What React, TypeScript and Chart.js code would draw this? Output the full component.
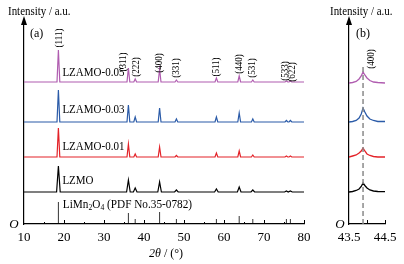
import React, { useEffect, useRef } from "react";
import { Chart, registerables } from "chart.js";
Chart.register(...registerables);

const FONT = '"Liberation Serif", "DejaVu Serif", serif';

// ---- Panel (a) data ----
const PEAK_POS = [18.6, 36.1, 37.8, 43.9, 48.1, 58.1, 63.8, 67.2, 75.6, 76.6];
const HKL = ["(111)", "(311)", "(222)", "(400)", "(331)", "(511)", "(440)", "(531)", "(533)", "(622)"];
const SERIES_NAMES = ["LZAMO-0.05", "LZAMO-0.03", "LZAMO-0.01", "LZMO"];
const OFFSETS = [142, 102, 67, 32];
const H_005 = [32, 14, 3, 13, 2, 4, 6, 2, 1, 1];
const H_003 = [32, 17, 5, 14, 3, 5, 9, 3, 1.5, 1.5];
const H_001 = [29, 13, 3, 10, 1.5, 4, 6, 2, 1, 1];
const H_LZMO = [26, 12, 4, 10, 2, 3, 5, 2, 1, 1];
const PEAK_HALF_WIDTH = [0.35, 0.35, 0.35, 0.45];
const PDF_H = [22, 11, 5, 12, 5, 5, 8, 5, 5, 5];
const PDF_LABEL = "(PDF No.35-0782)";
const X_TICKS_A = [10, 20, 30, 40, 50, 60, 70, 80];

// ---- Panel (b) data ----
const B_X = [43.5, 43.6, 43.7, 43.78, 43.84, 43.89, 43.94, 44.0, 44.08, 44.18, 44.3, 44.5];
const B_005 = [0, 0.5, 1.5, 4, 7, 11, 8, 5, 2.5, 1, 0.5, 0];
const B_003 = [0, 0.5, 1.5, 4, 8, 14, 10, 6, 3, 1.5, 0.5, 0.5];
const B_001 = [0, 1, 2, 4, 6, 9, 6, 3, 1.5, 0.5, 0, 0];
const B_LZMO = [0, 0.5, 1.5, 3, 5.5, 9, 6.5, 4, 2, 1, 0.5, 0.3];
const B_OFFSETS = [141, 102, 67, 32];
const REF_400 = 43.89;
const REF_400_TOP = 160;

const COLORS = ["#B05DB0", "#2B5BA8", "#E32228", "#000000"];

// label placement (annotation layout, not data)
const HKL_LABEL_DX = [1.5, -5, 1.5, 0, 0, 0, 0, 0, -1, 2];
const HKL_LABEL_Y = [186, 162, 157, 161, 156, 157, 160, 156, 153, 152];
const NAME_DY = [9, 12, 10, 11];

function txt(ctx: CanvasRenderingContext2D, s: string, x: number, y: number, size: number, o: any = {}) {
  ctx.save();
  ctx.font = `${o.italic ? "italic " : ""}${size}px ${FONT}`;
  ctx.fillStyle = o.color || "#000";
  ctx.textAlign = o.align || "left";
  ctx.textBaseline = "middle";
  ctx.translate(x, y);
  if (o.rotate) ctx.rotate(o.rotate);
  ctx.scale(o.sx ?? 1, 1);
  ctx.fillText(s, 0, 0);
  const w = ctx.measureText(s).width * (o.sx ?? 1);
  ctx.restore();
  return w;
}

function drawArrow(ctx: CanvasRenderingContext2D, x: number, top: number) {
  ctx.save();
  ctx.fillStyle = "#000";
  ctx.beginPath();
  ctx.moveTo(x, top - 4);
  ctx.lineTo(x - 3, top + 5);
  ctx.lineTo(x + 3, top + 5);
  ctx.closePath();
  ctx.fill();
  ctx.restore();
}

function patternPoints(heights: number[], offset: number, w: number) {
  const pts: any[] = [{ x: 10, y: offset }];
  PEAK_POS.forEach((p, i) => {
    pts.push({ x: p - w, y: offset }, { x: p, y: offset + heights[i] }, { x: p + w, y: offset });
  });
  pts.push({ x: 80, y: offset });
  return pts;
}

function stickPoints() {
  const pts: any[] = [];
  PEAK_POS.forEach((p, i) => {
    pts.push({ x: p, y: 0 }, { x: p, y: PDF_H[i] }, { x: p, y: null });
  });
  return pts;
}

function profilePoints(ys: number[], offset: number) {
  return B_X.map((x, i) => ({ x, y: offset + ys[i] }));
}

const lineDs = (data: any[], color: string, width = 1.2, extra: any = {}) => ({
  type: "scatter",
  data,
  showLine: true,
  borderColor: color,
  backgroundColor: color,
  borderWidth: width,
  pointRadius: 0,
  tension: 0,
  spanGaps: false,
  ...extra,
});

function ChartA() {
  const ref = useRef<HTMLCanvasElement>(null);
  useEffect(() => {
    const heights = [H_005, H_003, H_001, H_LZMO];
    const datasets: any[] = heights.map((h, i) =>
      lineDs(patternPoints(h, OFFSETS[i], PEAK_HALF_WIDTH[i]), COLORS[i])
    );
    datasets.push(lineDs(stickPoints(), "#000", 0.8));

    const deco = {
      id: "decoA",
      afterDraw(chart: any) {
        const ctx = chart.ctx as CanvasRenderingContext2D;
        const xs = chart.scales.x;
        const ys = chart.scales.y;
        const { left, top, bottom } = chart.chartArea;
        drawArrow(ctx, left, top - 2);
        ctx.save();
        ctx.strokeStyle = "#000";
        ctx.lineWidth = 1;
        for (let v = 15; v <= 80; v += 5) {
          const px = Math.round(xs.getPixelForValue(v)) + 0.5;
          const len = v % 10 === 0 ? 4 : 2;
          ctx.beginPath();
          ctx.moveTo(px, bottom);
          ctx.lineTo(px, bottom - len);
          ctx.stroke();
        }
        ctx.restore();
        txt(ctx, "O", left - 10, bottom + 1, 13, { italic: true, align: "center" });
        txt(ctx, "Intensity / a.u.", 8, 12, 11.5, { sx: 0.95 });
        txt(ctx, "(a)", left + 6, 34, 12);
        PEAK_POS.forEach((p, i) => {
          const x = xs.getPixelForValue(p) + HKL_LABEL_DX[i];
          const y = ys.getPixelForValue(HKL_LABEL_Y[i]);
          txt(ctx, HKL[i], x, y, 9.5, { align: "center", rotate: -Math.PI / 2, sx: 0.95 });
        });
        SERIES_NAMES.forEach((n, i) => {
          txt(ctx, n, xs.getPixelForValue(19.6), ys.getPixelForValue(OFFSETS[i] + NAME_DY[i]), 12.5, { sx: 0.88 });
        });
        let x = xs.getPixelForValue(19.7);
        const y = ys.getPixelForValue(19);
        const sx = 0.9;
        x += txt(ctx, "LiMn", x, y, 12.5, { sx });
        x += txt(ctx, "2", x, y + 3, 8.5, { sx });
        x += txt(ctx, "O", x, y, 12.5, { sx });
        x += txt(ctx, "4", x, y + 3, 8.5, { sx });
        txt(ctx, " " + PDF_LABEL, x, y, 12.5, { sx });
        const cx = xs.getPixelForValue(45.5);
        const w1 = txt(ctx, "2θ", cx - 17, 254, 12, { italic: true });
        txt(ctx, " / (°)", cx - 17 + w1, 254, 12);
      },
    };

    const chart = new Chart(ref.current!, {
      type: "scatter",
      data: { datasets },
      options: {
        responsive: false,
        animation: false,
        devicePixelRatio: 1,
        layout: { padding: { left: 0, right: 16, top: 22, bottom: 0 } },
        plugins: { legend: { display: false }, tooltip: { enabled: false } },
        scales: {
          x: {
            type: "linear",
            min: 10,
            max: 80,
            afterFit: (s: any) => { s.height = 40; },
            afterBuildTicks: (s: any) => { s.ticks = X_TICKS_A.map((v) => ({ value: v })); },
            grid: { display: false, drawTicks: false },
            border: { display: true, color: "#000", width: 1.2 },
            ticks: {
              font: { family: FONT, size: 13 },
              color: "#000",
              padding: 6,
              maxRotation: 0,
              minRotation: 0,
              autoSkip: false,
            },
          },
          y: {
            type: "linear",
            min: 0,
            max: 202,
            afterFit: (s: any) => { s.width = 24; },
            grid: { display: false, drawTicks: false },
            border: { display: true, color: "#000", width: 1.2 },
            ticks: { display: false },
          },
        },
      } as any,
      plugins: [deco],
    });
    return () => chart.destroy();
  }, []);
  return (
    <canvas ref={ref} width={320} height={264} style={{ position: "absolute", left: 0, top: 0, width: 320, height: 264 }} />
  );
}

function ChartB() {
  const ref = useRef<HTMLCanvasElement>(null);
  useEffect(() => {
    const profiles = [B_005, B_003, B_001, B_LZMO];
    const datasets: any[] = [
      lineDs([{ x: REF_400, y: 0 }, { x: REF_400, y: REF_400_TOP }], "#8a8a8a", 1.5, { borderDash: [5, 3] }),
    ];
    profiles.forEach((p, i) => datasets.push(lineDs(profilePoints(p, B_OFFSETS[i]), COLORS[i], 1.3)));

    const deco = {
      id: "decoB",
      afterDraw(chart: any) {
        const ctx = chart.ctx as CanvasRenderingContext2D;
        const xs = chart.scales.x;
        const ys = chart.scales.y;
        const { left, top, bottom } = chart.chartArea;
        drawArrow(ctx, left, top - 2);
        ctx.save();
        ctx.strokeStyle = "#000";
        ctx.lineWidth = 1;
        [44.0, 44.5].forEach((v) => {
          const px = Math.round(xs.getPixelForValue(v)) + 0.5;
          ctx.beginPath();
          ctx.moveTo(px, bottom);
          ctx.lineTo(px, bottom - 4);
          ctx.stroke();
        });
        ctx.restore();
        txt(ctx, "O", left - 9, bottom + 1, 13, { italic: true, align: "center" });
        txt(ctx, "Intensity / a.u.", 10, 12, 11.5, { sx: 0.95 });
        txt(ctx, "(b)", left + 7, 34, 12);
        txt(ctx, "(400)", xs.getPixelForValue(REF_400) + 8, ys.getPixelForValue(165), 9.5, {
          align: "center",
          rotate: -Math.PI / 2,
          sx: 0.95,
        });
      },
    };

    const chart = new Chart(ref.current!, {
      type: "scatter",
      data: { datasets },
      options: {
        responsive: false,
        animation: false,
        devicePixelRatio: 1,
        layout: { padding: { left: 0, right: 19, top: 22, bottom: 0 } },
        plugins: { legend: { display: false }, tooltip: { enabled: false } },
        scales: {
          x: {
            type: "linear",
            min: 43.5,
            max: 44.5,
            afterFit: (s: any) => { s.height = 40; },
            afterBuildTicks: (s: any) => { s.ticks = [{ value: 43.5 }, { value: 44.5 }]; },
            grid: { display: false, drawTicks: false },
            border: { display: true, color: "#000", width: 1.2 },
            ticks: {
              font: { family: FONT, size: 13 },
              color: "#000",
              padding: 6,
              maxRotation: 0,
              minRotation: 0,
              autoSkip: false,
              callback: (v: any) => Number(v).toFixed(1),
            },
          },
          y: {
            type: "linear",
            min: 0,
            max: 202,
            afterFit: (s: any) => { s.width = 29; },
            grid: { display: false, drawTicks: false },
            border: { display: true, color: "#000", width: 1.2 },
            ticks: { display: false },
          },
        },
      } as any,
      plugins: [deco],
    });
    return () => chart.destroy();
  }, []);
  return (
    <canvas ref={ref} width={84} height={264} style={{ position: "absolute", left: 320, top: 0, width: 84, height: 264 }} />
  );
}

export default function App() {
  return (
    <div style={{ position: "fixed", left: 0, top: 0, width: 404, height: 264, background: "#fff", overflow: "hidden" }}>
      <ChartA />
      <ChartB />
    </div>
  );
}
